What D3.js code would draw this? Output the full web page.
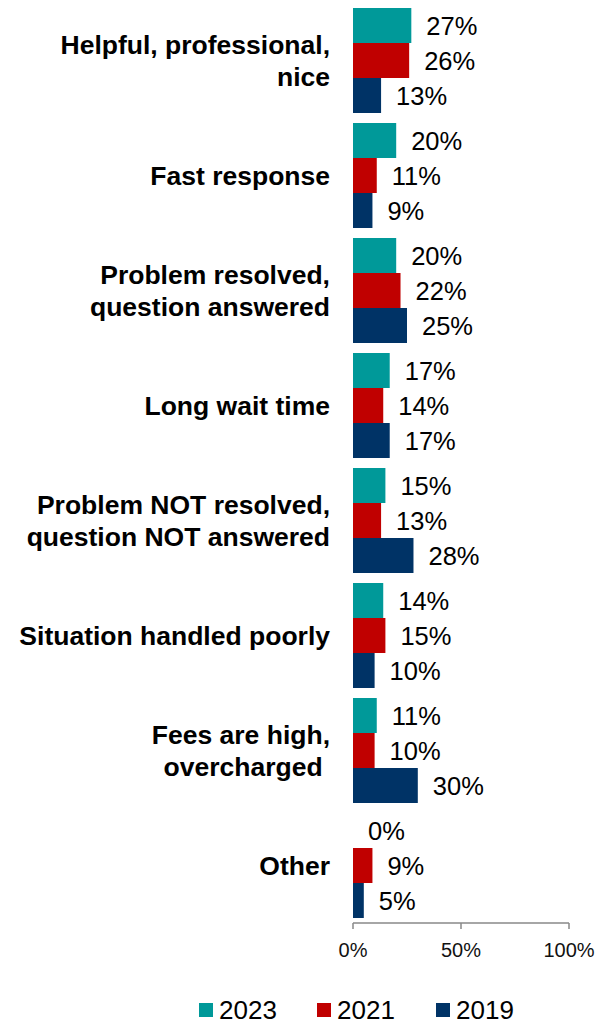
<!DOCTYPE html>
<html><head><meta charset="utf-8">
<script src="https://cdn.jsdelivr.net/npm/d3@7"></script>
<style>
html,body{margin:0;padding:0;background:#fff;}
svg{display:block;}
</style></head>
<body>
<script>
const categories = [
  ["Helpful, professional,", "nice"],
  ["Fast response"],
  ["Problem resolved,", "question answered"],
  ["Long wait time"],
  ["Problem NOT resolved,", "question NOT answered"],
  ["Situation handled poorly"],
  ["Fees are high,", "overcharged "],
  ["Other"]
];
const seriesNames = ["2023", "2021", "2019"];
const values2023 = [27, 20, 20, 17, 15, 14, 11, 0];
const values2021 = [26, 11, 22, 14, 13, 15, 10, 9];
const values2019 = [13, 9, 25, 17, 28, 10, 30, 5];
const tickValues = [0, 50, 100];
const colors = ["#009999", "#C00000", "#003366"];

const W = 599, H = 1024;
const svg = d3.select("body").append("svg").attr("width", W).attr("height", H);

const x = d3.scaleLinear().domain([0, 100]).range([353, 569]);
const y = d3.scaleBand().domain(d3.range(categories.length)).range([3, 923]).paddingInner(0.087).paddingOuter(0.0435);
const ySub = d3.scaleBand().domain(seriesNames).range([0, y.bandwidth()]);

const allSeries = [values2023, values2021, values2019];

const groups = svg.append("g").selectAll("g").data(categories).join("g")
  .attr("transform", (d, i) => `translate(0,${y(i)})`);

seriesNames.forEach((s, si) => {
  groups.append("rect")
    .attr("x", x(0))
    .attr("y", ySub(s))
    .attr("width", (d, i) => x(allSeries[si][i]) - x(0))
    .attr("height", ySub.bandwidth())
    .attr("fill", colors[si]);
  groups.append("text")
    .attr("x", (d, i) => x(allSeries[si][i]) + 15)
    .attr("y", ySub(s) + ySub.bandwidth() / 2)
    .attr("dy", "0.36em")
    .attr("font-family", "'Liberation Sans', Arial, sans-serif")
    .attr("font-size", 25.5)
    .attr("fill", "#000")
    .text((d, i) => allSeries[si][i] + "%");
});

// category labels
groups.each(function(lines, i) {
  const g = d3.select(this);
  const cy = y.bandwidth() / 2;
  const lh = 32;
  const t = g.append("text")
    .attr("text-anchor", "end")
    .attr("font-family", "'Liberation Sans', Arial, sans-serif")
    .attr("font-weight", "bold")
    .attr("font-size", 26.5)
    .attr("fill", "#000")
    .style("white-space", "pre");
  lines.forEach((ln, li) => {
    t.append("tspan")
      .attr("x", 330)
      .attr("y", cy + (li - (lines.length - 1) / 2) * lh)
      .attr("dy", "0.36em")
      .text(ln);
  });
});

// axis
const axisG = svg.append("g").attr("transform", "translate(0,923)");
axisG.append("line").attr("x1", x(0)).attr("x2", x(100)).attr("stroke", "#898989").attr("stroke-width", 1.5);
axisG.selectAll("line.tick").data(tickValues).join("line")
  .attr("class", "tick")
  .attr("x1", d => x(d)).attr("x2", d => x(d))
  .attr("y1", 0).attr("y2", 6)
  .attr("stroke", "#898989").attr("stroke-width", 1.5);
axisG.selectAll("text").data(tickValues).join("text")
  .attr("x", d => x(d))
  .attr("y", 27)
  .attr("dy", "0.36em")
  .attr("text-anchor", "middle")
  .attr("font-family", "'Liberation Sans', Arial, sans-serif")
  .attr("font-size", 20)
  .attr("fill", "#111")
  .text(d => d + "%");

// legend
const legendX = [199, 317, 436];
const leg = svg.append("g").selectAll("g").data(seriesNames).join("g")
  .attr("transform", (d, i) => `translate(${legendX[i]},1003)`);
leg.append("rect").attr("width", 14).attr("height", 14).attr("fill", (d, i) => colors[i]);
leg.append("text")
  .attr("x", 20).attr("y", 7).attr("dy", "0.36em")
  .attr("font-family", "'Liberation Sans', Arial, sans-serif")
  .attr("font-size", 26)
  .attr("fill", "#000")
  .text(d => d);
</script>
</body></html>
